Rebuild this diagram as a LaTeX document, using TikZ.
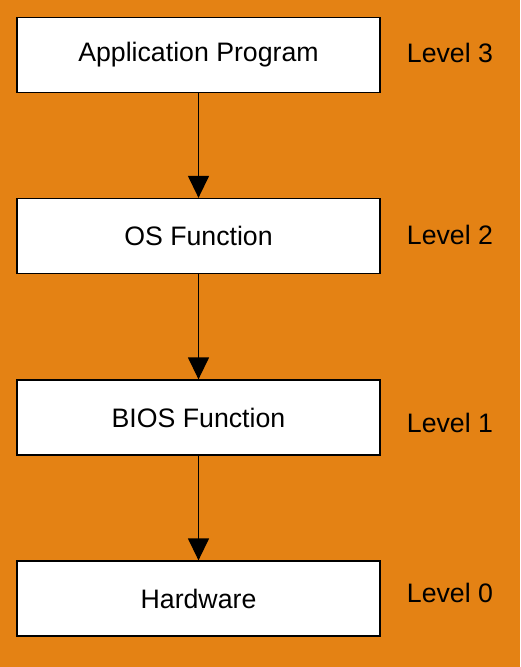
\documentclass[tikz,border=0pt]{standalone}
\usepackage{fontspec}
\setmainfont{Liberation Sans}
\usetikzlibrary{arrows.meta}
\definecolor{bg}{RGB}{228,130,20}
\begin{document}
\begin{tikzpicture}[x=1pt,y=-1pt,
  box/.style={draw=black,fill=white,line width=1.3pt,minimum width=363pt,minimum height=75pt,inner sep=0pt,font=\fontsize{26.7}{32}\selectfont},
  lvl/.style={font=\fontsize{26.7}{32}\selectfont,inner sep=0pt},
  conn/.style={line width=1.4pt,-{Triangle[length=22pt,width=21pt]}}]
\fill[bg] (0,0) rectangle (520,667);
\useasboundingbox (0,0) rectangle (520,667);
\node[box] (app) at (198.5,55) {Application Program};
\node[box] (os) at (198.5,236) {OS Function};
\node[box] (bios) at (198.5,417.5) {BIOS Function};
\node[box] (hw) at (198.5,598.5) {Hardware};
\node[lvl] (l3) at (450,53) {Level 3};
\node[lvl] (l2) at (450,235) {Level 2};
\node[lvl] (l1) at (450,423) {Level 1};
\node[lvl] (l0) at (450,593) {Level 0};
\draw[conn] (app) -- (os);
\draw[conn] (os) -- (bios);
\draw[conn] (bios) -- (hw);
\end{tikzpicture}
\end{document}
